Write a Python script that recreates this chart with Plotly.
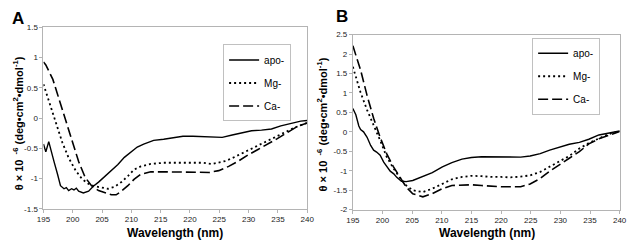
import plotly.graph_objects as go

# ---------------- Panel A data ----------------
wl_A_apo = [195, 195.4, 195.9, 196.3, 196.8, 197.4, 197.9, 198.5, 198.9, 199.3, 199.8, 200.2, 200.6, 201,
            201.8, 202.7, 203.5, 204.4, 205.5, 206.6, 207.7, 208.8, 209.9, 211, 212.1, 213.8, 215.5,
            217.2, 218.8, 220.5, 222.2, 223.8, 225.5, 227.2, 228.9, 230.5, 232.2, 233.9, 235.5, 237.2,
            238.9, 240]
apo_A = [-0.43, -0.56, -0.39, -0.56, -0.72, -0.93, -1.12, -1.17, -1.15, -1.20, -1.17, -1.19, -1.16, -1.21,
         -1.24, -1.21, -1.13, -1.06, -0.96, -0.87, -0.77, -0.65, -0.56, -0.48, -0.43, -0.37, -0.35,
         -0.33, -0.30, -0.30, -0.31, -0.32, -0.32, -0.28, -0.24, -0.21, -0.20, -0.18, -0.13, -0.09,
         -0.05, -0.04]

wl_A_mg = [195, 196, 197.1, 198.2, 199.3, 200.5, 201.6, 202.7, 203.8, 204.9, 206, 207.1, 208.3, 209.4,
           210.5, 211.6, 213.3, 215.5, 217.2, 218.8, 220.5, 222.2, 223.8, 224.9, 226.1, 227.7, 229.4,
           231.1, 232.8, 234.4, 236.1, 237.8, 240]
mg_A = [0.56, 0.27, -0.08, -0.40, -0.66, -0.87, -1.01, -1.09, -1.13, -1.15, -1.17, -1.14, -1.06, -0.96,
        -0.85, -0.80, -0.76, -0.74, -0.74, -0.73, -0.73, -0.74, -0.76, -0.74, -0.71, -0.64, -0.56,
        -0.48, -0.40, -0.32, -0.24, -0.16, -0.08]

wl_A_ca = [195, 195.4, 196.6, 197.7, 198.8, 199.9, 201, 202.1, 203.2, 204.4, 205.5, 206.6, 207.4, 208.3,
           209.4, 210.5, 211.6, 213.3, 215.5, 218.8, 221.6, 223.3, 224.9, 226.6, 228.3, 229.9, 231.6,
           233.3, 234.9, 236.6, 238.3, 240]
ca_A = [0.93, 0.88, 0.64, 0.29, -0.05, -0.40, -0.72, -0.98, -1.12, -1.20, -1.24, -1.27, -1.27, -1.21,
        -1.12, -1.01, -0.93, -0.89, -0.89, -0.89, -0.90, -0.90, -0.87, -0.80, -0.71, -0.61, -0.52,
        -0.43, -0.34, -0.24, -0.14, -0.08]

# ---------------- Panel B data ----------------
wl_B_apo = [195, 195.5, 196, 196.3, 196.8, 197.4, 198, 198.5, 199, 199.6, 200.2, 200.8, 201.3, 201.9,
            202.4, 203.2, 204, 205.1, 206.8, 208.4, 210.1, 211.7, 213.4, 215, 216.7, 218.3, 220, 221.6,
            223.3, 224.9, 226.6, 228.2, 229.9, 231.5, 233.2, 234.8, 236.5, 238.1, 240]
apo_B = [0.60, 0.44, 0.15, 0.06, 0.00, -0.14, -0.35, -0.47, -0.52, -0.60, -0.78, -0.92, -1.01, -1.08,
         -1.17, -1.27, -1.28, -1.25, -1.15, -1.05, -0.90, -0.79, -0.70, -0.66, -0.64, -0.64, -0.64,
         -0.65, -0.65, -0.62, -0.56, -0.47, -0.39, -0.32, -0.27, -0.19, -0.08, -0.03, 0.02]

wl_B = [195, 196.3, 197.4, 198.5, 199.6, 200.7, 201.8, 202.9, 204, 205.1, 206.8, 208.4, 210.1, 211.7,
        213.4, 215, 216.7, 218.3, 220, 221.6, 223.3, 224.9, 226.6, 228.2, 229.9, 231.5, 233.2, 234.8,
        236.5, 238.1, 240]
mg_B = [1.67, 1.01, 0.56, 0.19, -0.22, -0.64, -0.93, -1.17, -1.38, -1.50, -1.55, -1.46, -1.34, -1.22,
        -1.16, -1.13, -1.14, -1.16, -1.16, -1.17, -1.15, -1.12, -1.03, -0.90, -0.76, -0.62, -0.43,
        -0.29, -0.17, -0.06, 0.02]
ca_B = [2.21, 1.59, 0.93, 0.35, -0.14, -0.56, -0.89, -1.17, -1.42, -1.59, -1.67, -1.59, -1.46, -1.38,
        -1.36, -1.36, -1.38, -1.40, -1.41, -1.41, -1.41, -1.34, -1.20, -1.01, -0.83, -0.68, -0.51,
        -0.31, -0.18, -0.09, 0.01]

series_names = ["apo-", "Mg-", "Ca-"]
x_ticks = [195, 200, 205, 210, 215, 220, 225, 230, 235, 240]
yA_ticks = [-1.5, -1, -0.5, 0, 0.5, 1, 1.5]
yA_text = ["-1.5", "-1", "-0.5", "0", "0.5", "1", "1.5"]
yB_ticks = [-2, -1.5, -1, -0.5, 0, 0.5, 1, 1.5, 2, 2.5]
yB_text = ["-2", "-1.5", "-1", "-0.5", "0", "0.5", "1", "1.5", "2", "2.5"]

FONT = "Arial, Liberation Sans, sans-serif"
W, H = 633, 251

styles = [dict(color="black", width=1.4),
          dict(color="black", width=1.8, dash="2px,3px"),
          dict(color="black", width=1.6, dash="10px,4px")]

fig = go.Figure()
panelA = [(wl_A_apo, apo_A), (wl_A_mg, mg_A), (wl_A_ca, ca_A)]
panelB = [(wl_B_apo, apo_B), (wl_B, mg_B), (wl_B, ca_B)]
for i, (xs, ys) in enumerate(panelA):
    fig.add_trace(go.Scatter(x=xs, y=ys, mode="lines", name=series_names[i], line=styles[i],
                             xaxis="x", yaxis="y", legend="legend", legendgroup="a%d" % i))
for i, (xs, ys) in enumerate(panelB):
    fig.add_trace(go.Scatter(x=xs, y=ys, mode="lines", name=series_names[i], line=styles[i],
                             xaxis="x2", yaxis="y2", legend="legend2", legendgroup="b%d" % i))

axis_common = dict(showgrid=False, zeroline=False, showline=True, mirror=True,
                   linecolor="#b4b4b4", linewidth=1, ticks="outside", ticklen=3,
                   tickcolor="#b4b4b4", ticklabeloverflow="allow",
                   tickfont=dict(family=FONT, size=8, color="#222"))

xdomA = [37.3 / W, 307 / W]
xdomB = [353.7 / W, 626.5 / W]
ydomA = [(H - 212.3) / H, (H - 24.3) / H]
ydomB = [(H - 213.3) / H, (H - 31.7) / H]

legend_common = dict(bgcolor="white", bordercolor="#c0c0c0", borderwidth=1,
                     font=dict(family=FONT, size=10, color="black"),
                     xanchor="left", yanchor="top", tracegroupgap=4, itemwidth=30)

fig.update_layout(
    width=W, height=H, margin=dict(l=0, r=0, t=0, b=0),
    paper_bgcolor="white", plot_bgcolor="white", showlegend=True,
    xaxis=dict(domain=xdomA, range=[195, 240], tickvals=x_ticks, anchor="y", **axis_common),
    yaxis=dict(domain=ydomA, range=[-1.5, 1.5], tickvals=yA_ticks, ticktext=yA_text, anchor="x",
               **axis_common),
    xaxis2=dict(domain=xdomB, range=[195, 240], tickvals=x_ticks, anchor="y2", **axis_common),
    yaxis2=dict(domain=ydomB, range=[-2, 2.5], tickvals=yB_ticks, ticktext=yB_text, anchor="x2",
                **axis_common),
    legend=dict(x=221 / W, y=1 - 42 / H, **legend_common),
    legend2=dict(x=537 / W, y=1 - 35 / H, **legend_common),
)

ytitle = "θ × 10 <sup> -6</sup> (deg•cm<sup>2</sup>•dmol<sup>-1</sup>)"
ann = [
    dict(text=ytitle, x=11 / W, y=1 - 124 / H, textangle=-90),
    dict(text=ytitle, x=322 / W, y=1 - 125 / H, textangle=-90),
]
for a in ann:
    fig.add_annotation(xref="paper", yref="paper", xanchor="center", yanchor="middle",
                       showarrow=False, font=dict(family=FONT, size=11, color="black"),
                       text="<b>" + a["text"] + "</b>", x=a["x"], y=a["y"], textangle=a["textangle"])

for txt, xc in [("Wavelength (nm)", 172), ("Wavelength (nm)", 491)]:
    fig.add_annotation(xref="paper", yref="paper", x=xc / W, y=1 - 237 / H, xanchor="center",
                       yanchor="middle", showarrow=False, text="<b>" + txt + "</b>",
                       font=dict(family=FONT, size=12, color="black"))

for txt, xl, yt in [("A", 3, 3), ("B", 334, 1)]:
    fig.add_annotation(xref="paper", yref="paper", x=xl / W, y=1 - yt / H, xanchor="left",
                       yanchor="top", showarrow=False, text="<b>" + txt + "</b>",
                       font=dict(family=FONT, size=17, color="black"))

fig.write_html("out.html", config={"displayModeBar": False},
               post_script="document.body.style.margin='0';document.body.style.overflow='hidden';")
